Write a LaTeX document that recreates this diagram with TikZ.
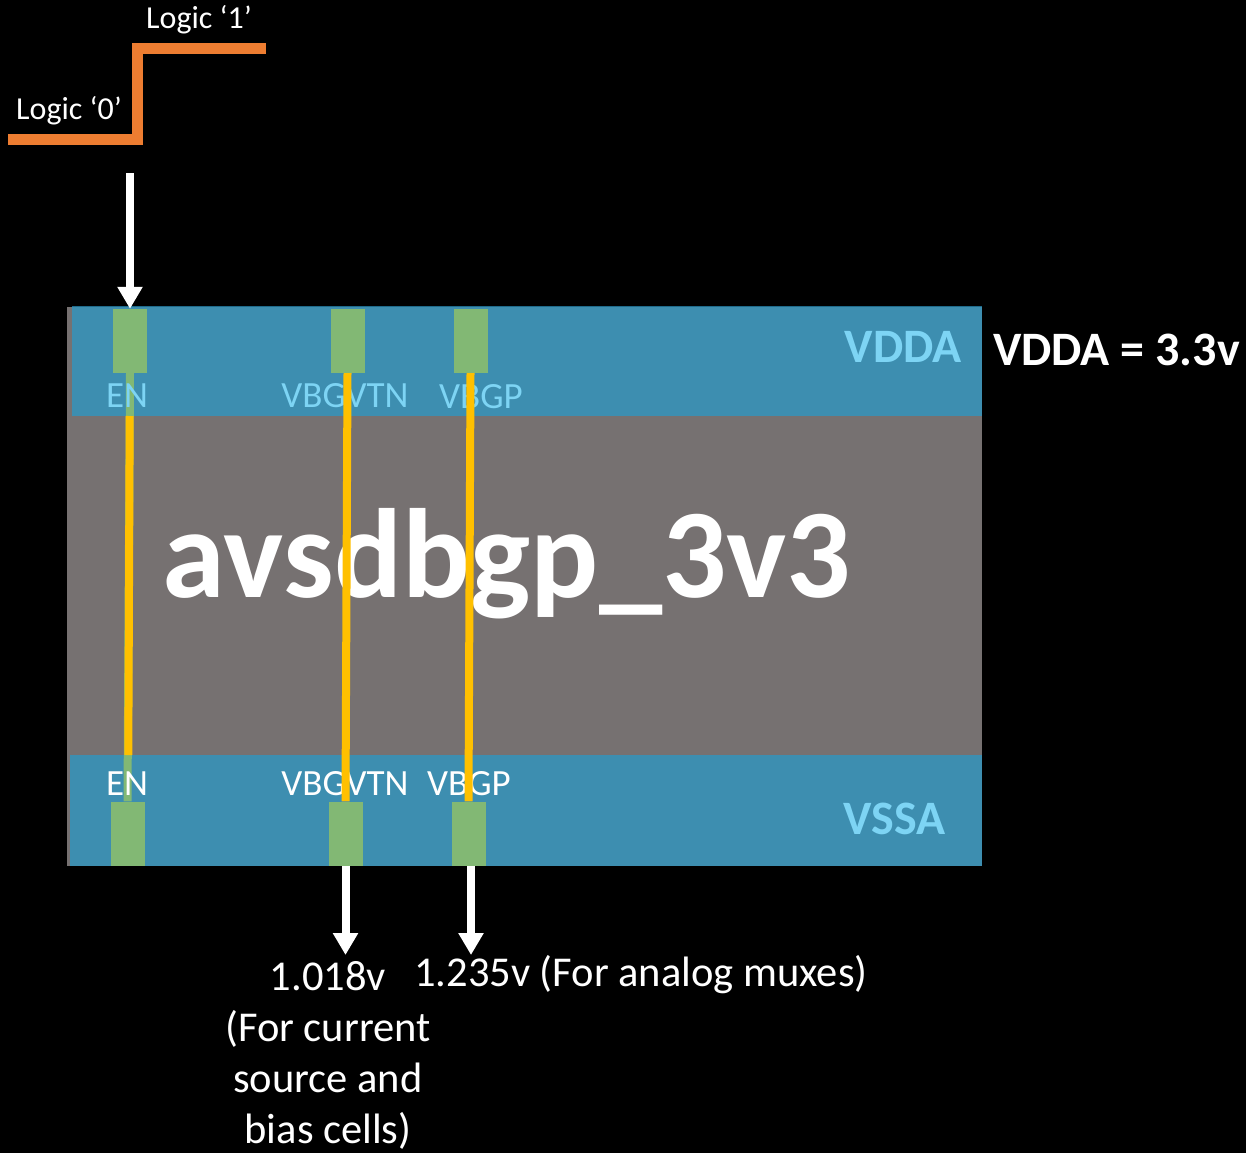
\documentclass[tikz,border=0pt]{standalone}
\usepackage{fontspec}
\setmainfont{Carlito}
\usetikzlibrary{arrows.meta}
\definecolor{bandblue}{HTML}{3D8EB0}
\definecolor{blockgray}{HTML}{767171}
\definecolor{padgreen}{HTML}{82B874}
\definecolor{lblue}{HTML}{7DD4F4}
\definecolor{sigorange}{HTML}{ED7D31}
\definecolor{wireyellow}{HTML}{FFC000}
\definecolor{edgeblue}{HTML}{1F6A8A}
\tikzset{
  pad/.style={fill=padgreen, draw=none, minimum width=34pt, minimum height=64pt, inner sep=0pt},
  wire/.style={draw=wireyellow, line width=8pt},
  gwire/.style={draw=padgreen, line width=8pt},
  warrow/.style={draw=white, line width=8pt, -{Triangle[width=24pt,length=22pt]}},
  pinlbl/.style={font=\fontsize{37}{42}\selectfont, inner sep=0pt},
  rail/.style={font=\fontsize{48}{54}\selectfont\bfseries, inner sep=0pt},
  note/.style={font=\fontsize{42.5}{51}\selectfont, text=white, inner sep=0pt},
  logiclbl/.style={font=\fontsize{32}{36}\selectfont, text=white, inner sep=0pt},
}
\begin{document}
\begin{tikzpicture}[x=1pt,y=-1pt]
\fill[black] (0,0) rectangle (1246,1153);
\useasboundingbox (0,0) rectangle (1246,1153);
% logic step
\draw[sigorange, line width=11pt, line join=miter] (8,139) -- (137.5,139) -- (137.5,48.5) -- (266,48.5);
\node[logiclbl, anchor=base west] (l1) at (146,29) {Logic ‘1’};
\node[logiclbl, anchor=base west] (l0) at (16,119) {Logic ‘0’};
% block
\fill[blockgray] (67,307) rectangle (982,866);
\fill[bandblue] (72,306) rectangle (982,416);
\draw[edgeblue, line width=1.5pt] (72,306.5) -- (982,306.5);
\fill[bandblue] (70,755) rectangle (982,866);
% pads
\node[pad] (tEN) at (130,341) {};
\node[pad] (tVT) at (347.5,341) {};
\node[pad] (tVP) at (470.5,341) {};
\node[pad] (bEN) at (127.5,833.5) {};
\node[pad] (bVT) at (345.5,833.5) {};
\node[pad] (bVP) at (468.5,833.5) {};
% EN wire (green in bands, yellow in core)
\draw[gwire] (tEN.south) -- (bEN.north);
\draw[wire] (129.7,416) -- (128.3,755);
% labels
\node[pinlbl, text=lblue, anchor=base] (lt1) at (127,407) {EN};
\node[pinlbl, text=lblue, anchor=base] (lt2) at (345,407) {VBGVTN};
\node[pinlbl, text=lblue, anchor=base] (lt3) at (481,408) {VBGP};
\node[pinlbl, text=white, anchor=base] (lb1) at (127,795) {EN};
\node[pinlbl, text=white, anchor=base] (lb2) at (345,795) {VBGVTN};
\node[pinlbl, text=white, anchor=base] (lb3) at (469,795) {VBGP};
\node[rail, text=lblue, anchor=base east] (vdda) at (962,362) {VDDA};
\node[rail, text=lblue, anchor=base east] (vssa) at (946,834) {VSSA};
\node[rail, text=white, anchor=base west] (vddav) at (993,365) {VDDA = 3.3v};
\node[font=\fontsize{127}{130}\selectfont\bfseries, text=white, inner sep=0pt, anchor=base] (title) at (507,597) {avsdbgp\_3v3};
% yellow wires over labels
\draw[wire] (tVT.south) -- (bVT.north);
\draw[wire] (tVP.south) -- (bVP.north);
% arrows
\coordinate (enin) at (130,173);
\coordinate (o1) at (345.5,955);
\coordinate (o2) at (471,955);
\draw[warrow] (enin) -- (tEN.north);
\draw[warrow] (bVT.south) -- (o1);
\draw[warrow] (bVP.south -| o2) -- (o2);
% notes
\node[note, anchor=base] (n1) at (328,990) {1.018v};
\node[note, anchor=base] (n2) at (328,1041) {(For current};
\node[note, anchor=base] (n3) at (328,1092) {source and};
\node[note, anchor=base] (n4) at (328,1143) {bias cells)};
\node[note, anchor=base west] (n5) at (414,986) {1.235v (For analog muxes)};
\end{tikzpicture}
\end{document}
